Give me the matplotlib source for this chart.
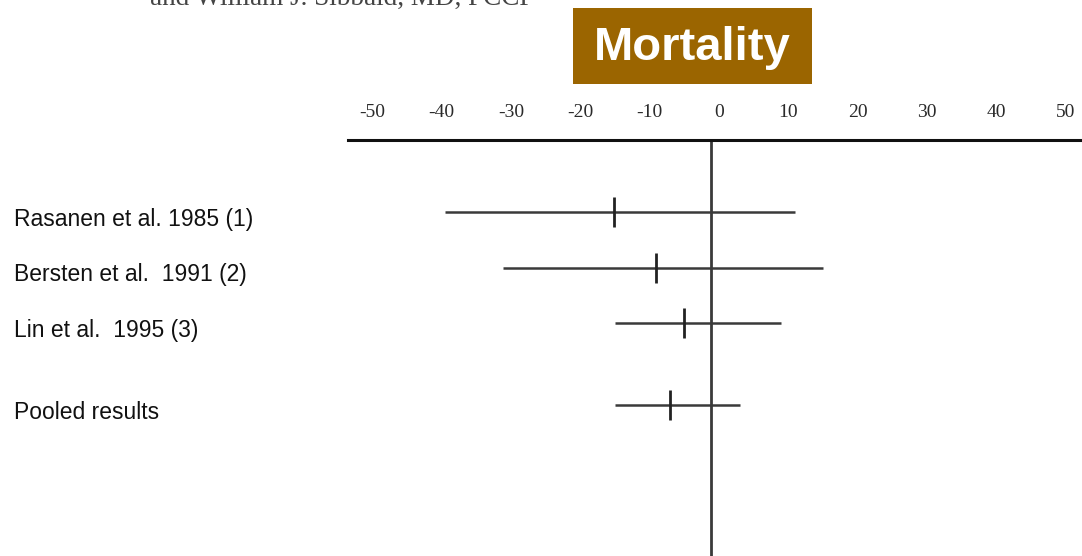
import matplotlib.pyplot as plt
from matplotlib.patches import Rectangle
from matplotlib.transforms import ScaledTranslation, blended_transform_factory

# Forest plot: difference in mortality (%) per trial, with 95% CI
studies = ["Rasanen et al. 1985 (1)", "Bersten et al.  1991 (2)",
           "Lin et al.  1995 (3)", "Pooled results"]
estimate = [-14.0, -7.9, -3.9, -5.9]
ci_low = [-38.4, -30.0, -13.9, -13.9]
ci_high = [12.1, 16.2, 10.1, 4.2]
tick_values = [-50, -40, -30, -20, -10, 0, 10, 20, 30, 40, 50]

title = "Mortality"
byline = "and William J. Sibbald, MD, FCCP"

W, H, DPI = 1082, 556, 100
fig = plt.figure(figsize=(W / DPI, H / DPI), dpi=DPI)
fig.patch.set_facecolor("white")

# plot area starts under the header rule
ax = fig.add_axes([348 / W, 0, 1 - 348 / W, (H - 140) / H])
ax.set_facecolor("white")

px_per_unit = 6.93
ax.set_xlim((348 - 711) / px_per_unit, (W - 711) / px_per_unit)

# row positions (pooled row set apart from the trials)
rows = [0, 1, 2, 3.48]
ax.set_ylim(6.2, -1.3)

line_col = "#3a3a3a"
for y, lo, hi, est in zip(rows, ci_low, ci_high, estimate):
    ax.plot([lo, hi], [y, y], color=line_col, lw=1.8, solid_capstyle="butt")
    ax.plot([est], [y], marker="|", markersize=21, mew=2.0, color="#222222")

# line of no effect
ax.axvline(0, color="#3a3a3a", lw=2)

for side in ["left", "right", "bottom"]:
    ax.spines[side].set_visible(False)
ax.spines["top"].set_linewidth(2.2)
ax.spines["top"].set_color("#111111")

ax.set_yticks([])
ax.xaxis.tick_top()
ax.set_xticks(tick_values)
ax.set_xticklabels([str(v) for v in tick_values], fontfamily="Liberation Serif",
                   fontsize=14, color="#2a2a2a")
ax.tick_params(axis="x", length=0, pad=14)
shift = ScaledTranslation(8 / DPI, 0, fig.dpi_scale_trans)
for lbl in ax.get_xticklabels():
    lbl.set_transform(lbl.get_transform() + shift)

# study names in the left margin, sitting a little below their rows
trans = blended_transform_factory(fig.transFigure, ax.transData)
trans = trans + ScaledTranslation(0, -7 / DPI, fig.dpi_scale_trans)
for y, name in zip(rows, studies):
    ax.text(14 / W, y, name, transform=trans, ha="left", va="center",
            fontfamily="Liberation Sans", fontsize=16.5, color="#111111",
            clip_on=False)

# title badge
fig.patches.append(Rectangle((573 / W, 1 - 84 / H), 239 / W, 76 / H,
                             transform=fig.transFigure, facecolor="#9b6500",
                             edgecolor="none"))
fig.text(692 / W, 1 - 48 / H, title, ha="center", va="center",
         fontfamily="Liberation Sans", fontweight="bold", fontsize=34,
         color="white")

# author line running off the top edge
fig.text(150 / W, 1 - 5 / H, byline, ha="left", va="baseline",
         fontfamily="Liberation Serif", fontsize=19.5, color="#444444")

fig.savefig("out.png", dpi=DPI, facecolor="white")
